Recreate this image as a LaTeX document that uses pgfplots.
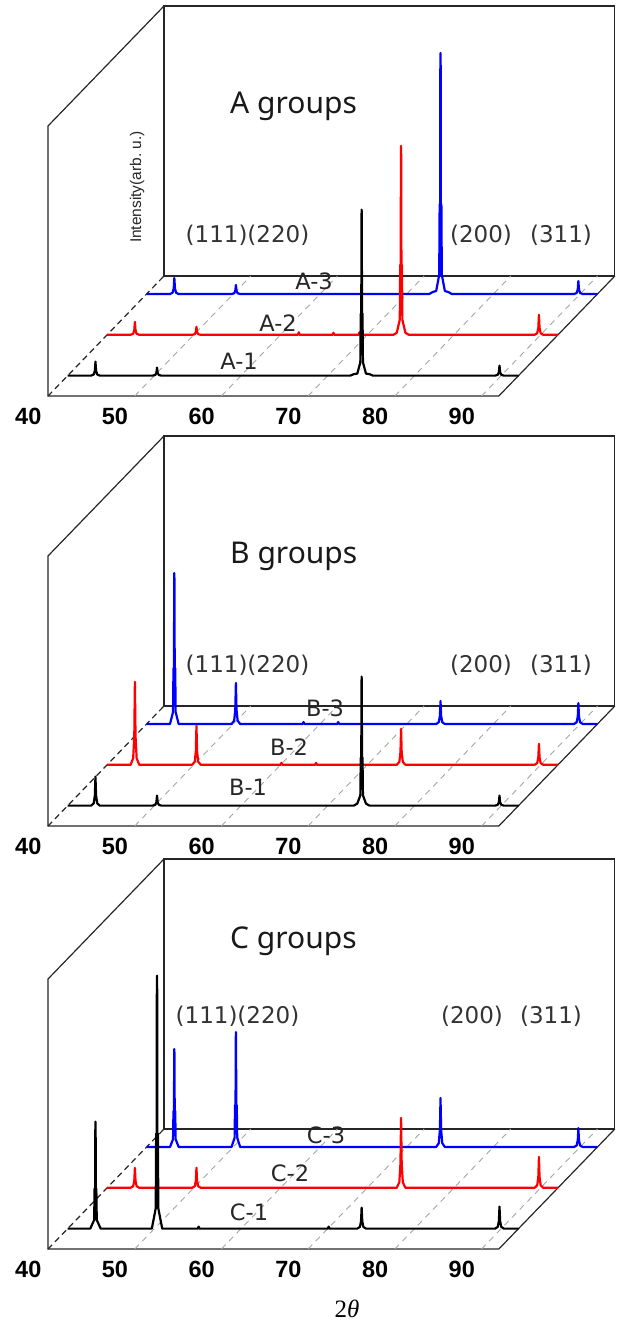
\documentclass[border=0pt]{standalone}
\usepackage{pgfplots}
\pgfplotsset{compat=1.18}
\usepackage{pgfplotstable}
\usepackage{fontspec}
\setmainfont{Noto Sans}
\newfontfamily\dejavu{DejaVu Sans}
\newfontfamily\arial{Liberation Sans}
\newfontfamily\timesfont{Liberation Serif}

% ---------------- data: 2theta (deg), intensity (arb. u.) ----------------
\pgfplotstableread{
t I
40 0
42.7 0
43.0 1.1
43.13 4.9
43.2 14
43.27 4.9
43.4 1.1
43.7 0
49.8 0
50.1 0.6
50.23 2.8
50.3 8
50.37 2.8
50.5 0.6
50.8 0
72.6 0
73.0 1.5
73.4 2
73.75 13.3
73.8 62
73.86 62
73.88 150
73.9 166
73.92 150
73.94 62
74.0 62
74.05 13.3
74.4 2
74.8 1.5
75.2 0
89.3 0
89.6 0.8
89.73 3.5
89.8 10
89.87 3.5
90.0 0.8
90.3 0
92 0
}\Aone
\pgfplotstableread{
t I
40 0
42.7 0
43.0 1.0
43.13 4.6
43.2 13
43.27 4.6
43.4 1.0
43.7 0
49.8 0
50.1 0.6
50.23 2.8
50.3 8
50.37 2.8
50.5 0.6
50.8 0
62.0 0
62.1 2.5
62.2 0
66.0 0
66.1 2
66.2 0
69.0 0
69.1 2.5
69.2 0
73.0 0
73.4 2
73.75 15.1
73.8 70
73.86 70
73.88 170
73.9 189
73.92 170
73.94 70
74.0 70
74.05 15.1
74.4 2
74.8 0
89.3 0
89.6 1.6
89.73 7
89.8 20
89.87 7
90.0 1.6
90.3 0
92 0
}\Atwo
\pgfplotstableread{
t I
40 0
42.7 0
43.0 1.3
43.13 5.6
43.2 16
43.27 5.6
43.4 1.3
43.7 0
49.8 0
50.1 0.7
50.23 3.2
50.3 9
50.37 3.2
50.5 0.7
50.8 0
72.6 0
73.0 2
73.4 3
73.75 19.3
73.8 90
73.86 90
73.88 225
73.9 241
73.92 225
73.94 90
74.0 90
74.05 19.3
74.4 3
74.8 2
75.2 0
89.3 0
89.6 1.0
89.73 4.6
89.8 13
89.87 4.6
90.0 1.0
90.3 0
92 0
}\Athree

\pgfplotstableread{
t I
40 0
42.7 0
43.0 2.3
43.13 10.2
43.2 29
43.27 10.2
43.4 2.3
43.7 0
49.8 0
50.1 0.8
50.23 3.5
50.3 10
50.37 3.5
50.5 0.8
50.8 0
73.0 0
73.4 2
73.75 10.3
73.8 48
73.86 48
73.88 115
73.9 129
73.92 115
73.94 48
74.0 48
74.05 10.3
74.4 2
74.8 0
89.3 0
89.6 0.8
89.73 3.5
89.8 10
89.87 3.5
90.0 0.8
90.3 0
92 0
}\Bone
\pgfplotstableread{
t I
40 0
42.7 0
43.0 6.6
43.13 29.1
43.2 83
43.27 29.1
43.4 6.6
43.7 0
49.8 0
50.1 3.1
50.23 13.7
50.3 39
50.37 13.7
50.5 3.1
50.8 0
60.0 0
60.1 2
60.2 0
64.0 0
64.1 2
64.2 0
73.4 0
73.7 2.9
73.83 12.6
73.9 36
73.97 12.6
74.1 2.9
74.4 0
89.3 0
89.6 1.7
89.73 7.4
89.8 21
89.87 7.4
90.0 1.7
90.3 0
92 0
}\Btwo
\pgfplotstableread{
t I
40 0
42.7 0
43.05 12.1
43.1 56
43.16 56
43.18 135
43.2 151
43.22 135
43.24 56
43.3 56
43.35 12.1
43.7 0
49.8 0
50.1 3.3
50.23 14.4
50.3 41
50.37 14.4
50.5 3.3
50.8 0
58.0 0
58.1 2
58.2 0
62.0 0
62.1 2
62.2 0
73.4 0
73.7 1.8
73.83 8.1
73.9 23
73.97 8.1
74.1 1.8
74.4 0
89.3 0
89.6 1.7
89.73 7.4
89.8 21
89.87 7.4
90.0 1.7
90.3 0
92 0
}\Bthree

\pgfplotstableread{
t I
40 0
42.6 0
43.05 8.6
43.1 40
43.16 40
43.18 95
43.2 107
43.22 95
43.24 40
43.3 40
43.35 8.6
43.8 0
49.7 0
50.15 20.2
50.2 95
50.26 95
50.28 235
50.3 253
50.32 235
50.34 95
50.4 95
50.45 20.2
50.9 0
55.0 0
55.1 2
55.2 0
70.0 0
70.1 2
70.2 0
73.4 0
73.7 1.7
73.83 7.4
73.9 21
73.97 7.4
74.1 1.7
74.4 0
89.3 0
89.6 1.8
89.73 7.7
89.8 22
89.87 7.7
90.0 1.8
90.3 0
92 0
}\Cone
\pgfplotstableread{
t I
40 0
42.7 0
43.0 1.6
43.13 7
43.2 20
43.27 7
43.4 1.6
43.7 0
49.8 0
50.1 1.6
50.23 7
50.3 20
50.37 7
50.5 1.6
50.8 0
73.4 0
73.7 5.6
73.83 24.5
73.9 70
73.97 24.5
74.1 5.6
74.4 0
89.3 0
89.6 2.5
89.73 10.9
89.8 31
89.87 10.9
90.0 2.5
90.3 0
92 0
}\Ctwo
\pgfplotstableread{
t I
40 0
42.7 0
43.05 7.8
43.1 36
43.16 36
43.18 88
43.2 98
43.22 88
43.24 36
43.3 36
43.35 7.8
43.7 0
49.8 0
50.15 9.2
50.2 42
50.26 42
50.28 103
50.3 115
50.32 103
50.34 42
50.4 42
50.45 9.2
50.8 0
73.4 0
73.7 3.9
73.83 17.2
73.9 49
73.97 17.2
74.1 3.9
74.4 0
89.3 0
89.6 1.5
89.73 6.7
89.8 19
89.87 6.7
90.0 1.5
90.3 0
92 0
}\Cthree

\pgfplotsset{
  panel/.style={
    hide axis, clip=false,
    x={(8.67pt,0pt)}, y={(116pt,120pt)}, z={(0pt,1pt)},
    xmin=40, xmax=92, ymin=0, ymax=1, zmin=0, zmax=270,
    anchor=south west,
  },
  spec/.style={no marks, line width=2.2pt, line join=round},
}
\tikzset{
  boxline/.style={black!85, line width=1.2pt},
  gridline/.style={black!35, line width=0.9pt, dash pattern=on 6pt off 5pt},
  ticklab/.style={font=\arial\bfseries\fontsize{23.5}{26}\selectfont, inner sep=0pt, anchor=center},
  slab/.style={font=\dejavu\fontsize{22.5}{26}\selectfont, text=black!85, inner sep=0pt, anchor=base},
  hkl/.style={font=\dejavu\fontsize{23}{26}\selectfont, text=black!80, inner sep=0pt, anchor=base},
  ttl/.style={font=\fontsize{30}{34}\selectfont, text=black!90, inner sep=0pt, anchor=base west},
}

\newcommand{\panelbox}{%
  \draw[boxline] (axis cs:40,1,0) -- (axis cs:92,1,0) -- (axis cs:92,1,270) -- (axis cs:40,1,270) -- cycle;
  \draw[boxline] (axis cs:40,1,270) -- (axis cs:40,0,270) -- (axis cs:40,0,0) -- (axis cs:92,0,0) -- (axis cs:92,1,0);
  \draw[boxline, dash pattern=on 6pt off 4pt] (axis cs:40,0,0) -- (axis cs:40,1,0);
  \pgfplotsinvokeforeach{50,60,70,80,90}{\draw[gridline] (axis cs:##1,0,0) -- (axis cs:##1,1,0);}
  \pgfplotsinvokeforeach{40,50,60,70,80,90}{\node[ticklab] at (axis cs:##1,-0.17,0) {##1};}
}

\begin{document}
\begin{tikzpicture}
% ---------------- panel A ----------------
\begin{axis}[panel, at={(48pt,-396pt)}]
\panelbox
\addplot3[spec, blue] table[x=t, y expr=0.85, z=I] {\Athree};
\addplot3[spec, red] table[x=t, y expr=0.51, z=I] {\Atwo};
\addplot3[spec, black] table[x=t, y expr=0.17, z=I] {\Aone};
\end{axis}
% ---------------- panel B ----------------
\begin{axis}[panel, at={(48pt,-826pt)}]
\panelbox
\addplot3[spec, blue] table[x=t, y expr=0.85, z=I] {\Bthree};
\addplot3[spec, red] table[x=t, y expr=0.51, z=I] {\Btwo};
\addplot3[spec, black] table[x=t, y expr=0.17, z=I] {\Bone};
\end{axis}
% ---------------- panel C ----------------
\begin{axis}[panel, at={(48pt,-1249pt)}]
\panelbox
\addplot3[spec, blue] table[x=t, y expr=0.85, z=I] {\Cthree};
\addplot3[spec, red] table[x=t, y expr=0.51, z=I] {\Ctwo};
\addplot3[spec, black] table[x=t, y expr=0.17, z=I] {\Cone};
\end{axis}

% ---------------- texts ----------------
\node[ttl] at (230pt,-113pt) {A groups};
\node[ttl] at (230pt,-563pt) {B groups};
\node[ttl] at (230pt,-948pt) {C groups};

\node[hkl] at (247.5pt,-242pt) {(111)(220)};
\node[hkl] at (481pt,-242pt) {(200)};
\node[hkl] at (561pt,-242pt) {(311)};
\node[hkl] at (247.5pt,-672pt) {(111)(220)};
\node[hkl] at (481pt,-672pt) {(200)};
\node[hkl] at (561pt,-672pt) {(311)};
\node[hkl] at (237.5pt,-1023pt) {(111)(220)};
\node[hkl] at (472pt,-1023pt) {(200)};
\node[hkl] at (551pt,-1023pt) {(311)};

\node[slab] at (314pt,-289pt) {A-3};
\node[slab] at (278pt,-331pt) {A-2};
\node[slab] at (239pt,-369pt) {A-1};
\node[slab] at (325pt,-716pt) {B-3};
\node[slab] at (289pt,-755pt) {B-2};
\node[slab] at (248pt,-795pt) {B-1};
\node[slab] at (326pt,-1143pt) {C-3};
\node[slab] at (290pt,-1181pt) {C-2};
\node[slab] at (249pt,-1220pt) {C-1};

\node[rotate=90, font=\arial\fontsize{15.5}{18}\selectfont, text=black!85, inner sep=0pt] at (137pt,-187pt) {Intensity(arb.\ u.)};
\node[font=\timesfont\fontsize{25}{28}\selectfont, inner sep=0pt, anchor=base] at (347pt,-1317pt) {2\textit{θ}};

\pgfresetboundingbox
\path[use as bounding box] (0pt,0pt) rectangle (619pt,-1328pt);
\end{tikzpicture}
\end{document}
